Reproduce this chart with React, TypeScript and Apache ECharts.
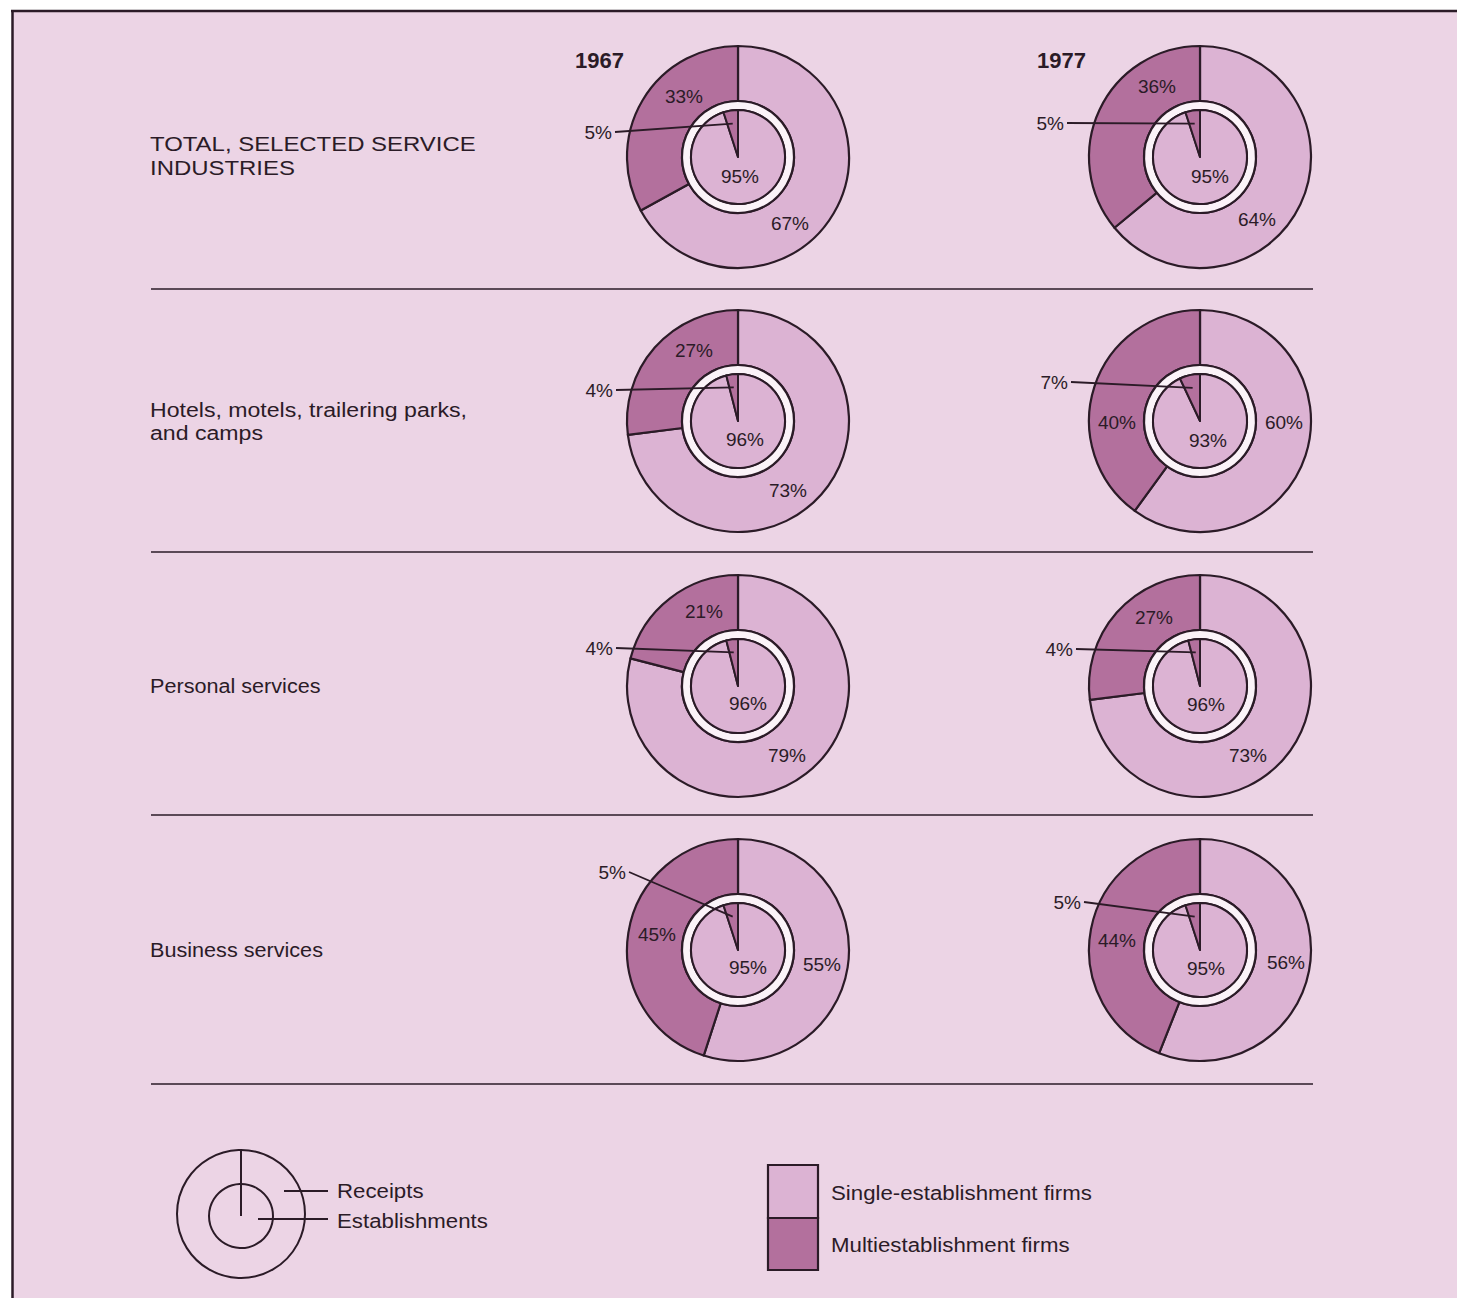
import React, { useEffect, useRef } from "react";
import * as echarts from "echarts";

// ---------- data ----------
const categories = [
  "TOTAL, SELECTED SERVICE\nINDUSTRIES",
  "Hotels, motels, trailering parks,\nand camps",
  "Personal services",
  "Business services",
];
const years = ["1967", "1977"];
const receiptsSingle1967 = [67, 73, 79, 55];
const receiptsMulti1967 = [33, 27, 21, 45];
const receiptsSingle1977 = [64, 60, 73, 56];
const receiptsMulti1977 = [36, 40, 27, 44];
const establishmentsSingle1967 = [95, 96, 96, 95];
const establishmentsMulti1967 = [5, 4, 4, 5];
const establishmentsSingle1977 = [95, 93, 96, 95];
const establishmentsMulti1977 = [5, 7, 4, 5];
const legendRings = ["Receipts", "Establishments"];
const legendFirms = ["Single-establishment firms", "Multiestablishment firms"];

// ---------- layout & style ----------
const W = 1457;
const H = 1298;
const COL_X = [738, 1200];
const ROW_Y = [157, 421, 686, 950];
const R_OUT = 111;
const R_RING_OUT = 56;
const R_RING_IN = 47;
const BG = "#ecd4e5";
const SINGLE = "#dcb3d3";
const MULTI = "#b3709d";
const RING = "#fbf3f8";
const DARK = "#2b1b27";
const FONT = '"Liberation Sans", Arial, sans-serif';

// label offsets relative to each pie centre: [multiDx, multiDy, singleDx, singleDy, estDx, estDy, smallDx, smallDy]
const labelOffsets1967 = [
  [-54, -61, 52, 66, 2, 19, -123, -25],
  [-44, -71, 50, 69, 7, 18, -122, -31],
  [-34, -75, 49, 69, 10, 17, -122, -38],
  [-81, -16, 84, 14, 10, 17, -109, -78],
];
const labelOffsets1977 = [
  [-43, -71, 57, 62, 10, 19, -133, -34],
  [-83, 1, 84, 1, 8, 19, -129, -39],
  [-46, -69, 48, 69, 6, 18, -124, -37],
  [-83, -10, 86, 12, 6, 18, -116, -48],
];
const SEPARATOR_Y = [289, 552, 815, 1084];

export default function App() {
  const ref = useRef<HTMLDivElement>(null);

  useEffect(() => {
    const chart = echarts.init(ref.current!, undefined, { renderer: "svg" });

    const panels = [
      { rs: receiptsSingle1967, rm: receiptsMulti1967, es: establishmentsSingle1967, em: establishmentsMulti1967, off: labelOffsets1967 },
      { rs: receiptsSingle1977, rm: receiptsMulti1977, es: establishmentsSingle1977, em: establishmentsMulti1977, off: labelOffsets1977 },
    ];

    const series: any[] = [];
    const graphics: any[] = [];

    // background & frame
    graphics.push({ type: "rect", z: 0, shape: { x: 12, y: 10, width: W - 12, height: H - 10 }, style: { fill: BG } });
    graphics.push({ type: "line", z: 1, shape: { x1: 11, y1: 11, x2: W, y2: 11 }, style: { stroke: DARK, lineWidth: 2.5 } });
    graphics.push({ type: "line", z: 1, shape: { x1: 12.5, y1: 10, x2: 12.5, y2: H }, style: { stroke: DARK, lineWidth: 2.5 } });

    // separators
    SEPARATOR_Y.forEach((y) => {
      graphics.push({ type: "line", z: 1, shape: { x1: 151, y1: y, x2: 1313, y2: y }, style: { stroke: DARK, lineWidth: 1.5 } });
    });

    // year headers
    years.forEach((yr, yi) => {
      graphics.push({
        type: "text", z: 20, x: COL_X[yi] - 163, y: 60,
        style: { text: yr, font: `bold 22px ${FONT}`, fill: DARK, textAlign: "left", textVerticalAlign: "middle" },
      });
    });

    // row labels
    categories.forEach((cat, ri) => {
      if (ri === 0) {
        graphics.push({
          type: "group", z: 20, x: 150, y: ROW_Y[ri] - 1, scaleX: 1.14,
          children: [{ type: "text", z: 20, style: { text: cat, font: `21px ${FONT}`, fill: DARK, textAlign: "left", textVerticalAlign: "middle", lineHeight: 25 } }],
        });
      } else {
        graphics.push({
          type: "group", z: 20, x: 150, y: ROW_Y[ri], scaleX: ri === 1 ? 1.1 : 1.03,
          children: [{ type: "text", z: 20, style: { text: cat, font: `21px ${FONT}`, fill: DARK, textAlign: "left", textVerticalAlign: "middle", lineHeight: 23 } }],
        });
      }
    });

    panels.forEach((p, yi) => {
      p.rs.forEach((_, ri) => {
        const cx = COL_X[yi];
        const cy = ROW_Y[ri];
        series.push({
          type: "pie", silent: true, z: 2, center: [cx, cy], radius: [R_RING_OUT, R_OUT],
          startAngle: 90, clockwise: true, label: { show: false }, labelLine: { show: false },
          itemStyle: { borderColor: DARK, borderWidth: 2.2 },
          data: [
            { name: legendFirms[0], value: p.rs[ri], itemStyle: { color: SINGLE } },
            { name: legendFirms[1], value: p.rm[ri], itemStyle: { color: MULTI } },
          ],
        });
        series.push({
          type: "pie", silent: true, z: 2, center: [cx, cy], radius: [R_RING_IN, R_RING_OUT],
          startAngle: 90, label: { show: false }, labelLine: { show: false },
          itemStyle: { borderColor: DARK, borderWidth: 2.2 },
          data: [{ name: "ring", value: 1, itemStyle: { color: RING } }],
        });
        series.push({
          type: "pie", silent: true, z: 3, center: [cx, cy], radius: [0, R_RING_IN],
          startAngle: 90, clockwise: true, label: { show: false }, labelLine: { show: false },
          itemStyle: { borderColor: DARK, borderWidth: 2 },
          data: [
            { name: legendFirms[0], value: p.es[ri], itemStyle: { color: SINGLE } },
            { name: legendFirms[1], value: p.em[ri], itemStyle: { color: MULTI } },
          ],
        });

        const o = p.off[ri];
        const pctFont = `19px ${FONT}`;
        graphics.push({ type: "text", z: 20, x: cx + o[0], y: cy + o[1], style: { text: `${p.rm[ri]}%`, font: pctFont, fill: DARK, textAlign: "center", textVerticalAlign: "middle" } });
        graphics.push({ type: "text", z: 20, x: cx + o[2], y: cy + o[3], style: { text: `${p.rs[ri]}%`, font: pctFont, fill: DARK, textAlign: "center", textVerticalAlign: "middle" } });
        graphics.push({ type: "text", z: 20, x: cx + o[4], y: cy + o[5], style: { text: `${p.es[ri]}%`, font: pctFont, fill: DARK, textAlign: "center", textVerticalAlign: "middle" } });
        graphics.push({ type: "text", z: 20, x: cx + o[6] - 3, y: cy + o[7], style: { text: `${p.em[ri]}%`, font: pctFont, fill: DARK, textAlign: "right", textVerticalAlign: "middle" } });
        // leader line into the small establishments wedge
        const mid = ((360 - (p.em[ri] * 3.6) / 2) * Math.PI) / 180;
        const rr = R_RING_IN * 0.72;
        graphics.push({
          type: "line", z: 20,
          shape: { x1: cx + o[6], y1: cy + o[7], x2: cx + rr * Math.sin(mid), y2: cy - rr * Math.cos(mid) },
          style: { stroke: DARK, lineWidth: 1.8 },
        });
      });
    });

    // legend: rings diagram
    const lx = 241, ly = 1214;
    graphics.push({ type: "circle", z: 20, shape: { cx: lx, cy: ly, r: 64 }, style: { fill: "none", stroke: DARK, lineWidth: 2 } });
    graphics.push({ type: "circle", z: 20, shape: { cx: lx, cy: ly + 2, r: 32 }, style: { fill: "none", stroke: DARK, lineWidth: 2 } });
    graphics.push({ type: "line", z: 20, shape: { x1: lx, y1: ly - 64, x2: lx, y2: ly + 2 }, style: { stroke: DARK, lineWidth: 2 } });
    graphics.push({ type: "line", z: 20, shape: { x1: 284, y1: 1191, x2: 328, y2: 1191 }, style: { stroke: DARK, lineWidth: 2 } });
    graphics.push({ type: "line", z: 20, shape: { x1: 258, y1: 1219, x2: 328, y2: 1219 }, style: { stroke: DARK, lineWidth: 2 } });
    const legendFont = `21px ${FONT}`;
    graphics.push({ type: "group", z: 20, x: 337, y: 1191, scaleX: 1.06, children: [{ type: "text", z: 20, style: { text: legendRings[0], font: legendFont, fill: DARK, textAlign: "left", textVerticalAlign: "middle" } }] });
    graphics.push({ type: "group", z: 20, x: 337, y: 1221, scaleX: 1.06, children: [{ type: "text", z: 20, style: { text: legendRings[1], font: legendFont, fill: DARK, textAlign: "left", textVerticalAlign: "middle" } }] });

    // legend: colour boxes
    graphics.push({ type: "rect", z: 20, shape: { x: 768, y: 1165, width: 50, height: 53 }, style: { fill: SINGLE, stroke: DARK, lineWidth: 2.2 } });
    graphics.push({ type: "rect", z: 20, shape: { x: 768, y: 1218, width: 50, height: 52 }, style: { fill: MULTI, stroke: DARK, lineWidth: 2.2 } });
    graphics.push({ type: "group", z: 20, x: 831, y: 1193, scaleX: 1.06, children: [{ type: "text", z: 20, style: { text: legendFirms[0], font: legendFont, fill: DARK, textAlign: "left", textVerticalAlign: "middle" } }] });
    graphics.push({ type: "group", z: 20, x: 831, y: 1245, scaleX: 1.06, children: [{ type: "text", z: 20, style: { text: legendFirms[1], font: legendFont, fill: DARK, textAlign: "left", textVerticalAlign: "middle" } }] });

    chart.setOption({
      animation: false,
      backgroundColor: "#ffffff",
      graphic: { elements: graphics },
      series,
    });

    return () => chart.dispose();
  }, []);

  return <div ref={ref} style={{ position: "absolute", left: 0, top: 0, width: W, height: H }} />;
}
